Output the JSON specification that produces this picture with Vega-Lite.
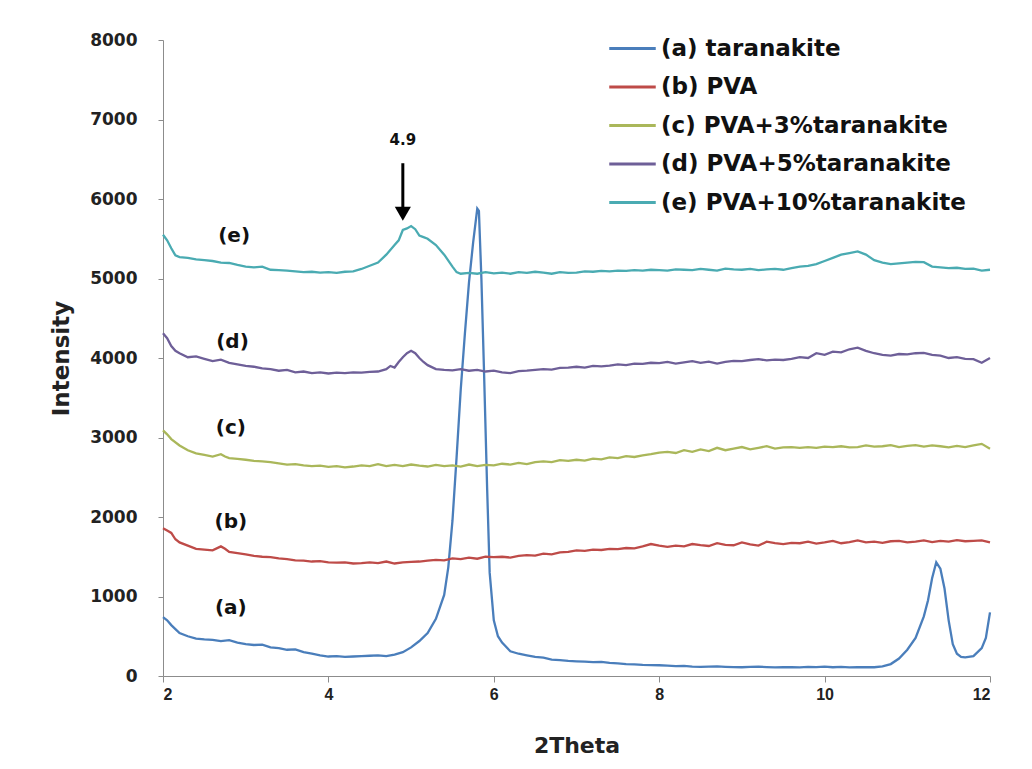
{
  "$schema": "https://vega.github.io/schema/vega-lite/v6.json",
  "width": 827,
  "height": 636,
  "autosize": {"type": "none"},
  "padding": {"left": 163, "top": 40, "right": 42, "bottom": 93},
  "background": "white",
  "config": {
    "view": {"stroke": null},
    "axis": {
      "domainColor": "#8c8c8c",
      "tickColor": "#8c8c8c",
      "grid": false,
      "labelColor": "#222222",
      "titleColor": "#222222"
    }
  },
  "datasets": {
    "names": [
      {"s": "a", "name": "(a) taranakite"},
      {"s": "b", "name": "(b) PVA"},
      {"s": "c", "name": "(c) PVA+3%taranakite"},
      {"s": "d", "name": "(d) PVA+5%taranakite"},
      {"s": "e", "name": "(e) PVA+10%taranakite"}
    ],
    "xrd": [
      {"s":"a","x":2.0,"y":740},{"s":"a","x":2.05,"y":700},{"s":"a","x":2.1,"y":640},{"s":"a","x":2.15,"y":590},{"s":"a","x":2.2,"y":540},{"s":"a","x":2.3,"y":500},{"s":"a","x":2.4,"y":470},{"s":"a","x":2.5,"y":460},{"s":"a","x":2.6,"y":455},{"s":"a","x":2.7,"y":440},{"s":"a","x":2.8,"y":450},{"s":"a","x":2.9,"y":420},{"s":"a","x":3.0,"y":400},{"s":"a","x":3.1,"y":390},{"s":"a","x":3.2,"y":395},{"s":"a","x":3.3,"y":360},{"s":"a","x":3.4,"y":350},{"s":"a","x":3.5,"y":330},{"s":"a","x":3.6,"y":335},{"s":"a","x":3.7,"y":300},{"s":"a","x":3.8,"y":280},{"s":"a","x":3.9,"y":260},{"s":"a","x":4.0,"y":245},{"s":"a","x":4.1,"y":250},{"s":"a","x":4.2,"y":240},{"s":"a","x":4.3,"y":245},{"s":"a","x":4.4,"y":250},{"s":"a","x":4.5,"y":255},{"s":"a","x":4.6,"y":260},{"s":"a","x":4.7,"y":250},{"s":"a","x":4.8,"y":270},{"s":"a","x":4.9,"y":300},{"s":"a","x":5.0,"y":360},{"s":"a","x":5.1,"y":440},{"s":"a","x":5.2,"y":540},{"s":"a","x":5.3,"y":720},{"s":"a","x":5.35,"y":870},{"s":"a","x":5.4,"y":1020},{"s":"a","x":5.45,"y":1370},{"s":"a","x":5.5,"y":1950},{"s":"a","x":5.55,"y":2750},{"s":"a","x":5.6,"y":3600},{"s":"a","x":5.65,"y":4300},{"s":"a","x":5.7,"y":4950},{"s":"a","x":5.75,"y":5450},{"s":"a","x":5.8,"y":5880},{"s":"a","x":5.82,"y":5850},{"s":"a","x":5.85,"y":5000},{"s":"a","x":5.88,"y":3900},{"s":"a","x":5.92,"y":2340},{"s":"a","x":5.95,"y":1300},{"s":"a","x":6.0,"y":700},{"s":"a","x":6.05,"y":500},{"s":"a","x":6.1,"y":420},{"s":"a","x":6.2,"y":310},{"s":"a","x":6.3,"y":280},{"s":"a","x":6.4,"y":260},{"s":"a","x":6.5,"y":240},{"s":"a","x":6.6,"y":230},{"s":"a","x":6.7,"y":205},{"s":"a","x":6.8,"y":200},{"s":"a","x":6.9,"y":190},{"s":"a","x":7.0,"y":185},{"s":"a","x":7.1,"y":180},{"s":"a","x":7.2,"y":175},{"s":"a","x":7.3,"y":178},{"s":"a","x":7.4,"y":165},{"s":"a","x":7.5,"y":160},{"s":"a","x":7.6,"y":150},{"s":"a","x":7.7,"y":145},{"s":"a","x":7.8,"y":140},{"s":"a","x":7.9,"y":138},{"s":"a","x":8.0,"y":135},{"s":"a","x":8.1,"y":130},{"s":"a","x":8.2,"y":125},{"s":"a","x":8.3,"y":128},{"s":"a","x":8.4,"y":118},{"s":"a","x":8.5,"y":115},{"s":"a","x":8.6,"y":118},{"s":"a","x":8.7,"y":120},{"s":"a","x":8.8,"y":115},{"s":"a","x":8.9,"y":112},{"s":"a","x":9.0,"y":110},{"s":"a","x":9.1,"y":115},{"s":"a","x":9.2,"y":118},{"s":"a","x":9.3,"y":112},{"s":"a","x":9.4,"y":108},{"s":"a","x":9.5,"y":112},{"s":"a","x":9.6,"y":110},{"s":"a","x":9.7,"y":108},{"s":"a","x":9.8,"y":115},{"s":"a","x":9.9,"y":112},{"s":"a","x":10.0,"y":118},{"s":"a","x":10.1,"y":110},{"s":"a","x":10.2,"y":115},{"s":"a","x":10.3,"y":108},{"s":"a","x":10.4,"y":112},{"s":"a","x":10.5,"y":110},{"s":"a","x":10.6,"y":110},{"s":"a","x":10.7,"y":120},{"s":"a","x":10.8,"y":150},{"s":"a","x":10.9,"y":220},{"s":"a","x":11.0,"y":330},{"s":"a","x":11.1,"y":480},{"s":"a","x":11.2,"y":750},{"s":"a","x":11.25,"y":950},{"s":"a","x":11.3,"y":1230},{"s":"a","x":11.35,"y":1430},{"s":"a","x":11.4,"y":1350},{"s":"a","x":11.45,"y":1100},{"s":"a","x":11.5,"y":700},{"s":"a","x":11.55,"y":400},{"s":"a","x":11.6,"y":280},{"s":"a","x":11.65,"y":240},{"s":"a","x":11.7,"y":235},{"s":"a","x":11.8,"y":250},{"s":"a","x":11.9,"y":350},{"s":"a","x":11.95,"y":480},{"s":"a","x":12.0,"y":800},
      {"s":"b","x":2.0,"y":1860},{"s":"b","x":2.05,"y":1830},{"s":"b","x":2.1,"y":1800},{"s":"b","x":2.15,"y":1720},{"s":"b","x":2.2,"y":1680},{"s":"b","x":2.3,"y":1640},{"s":"b","x":2.4,"y":1600},{"s":"b","x":2.5,"y":1590},{"s":"b","x":2.6,"y":1580},{"s":"b","x":2.7,"y":1630},{"s":"b","x":2.75,"y":1600},{"s":"b","x":2.8,"y":1560},{"s":"b","x":2.9,"y":1545},{"s":"b","x":3.0,"y":1530},{"s":"b","x":3.1,"y":1510},{"s":"b","x":3.2,"y":1500},{"s":"b","x":3.3,"y":1495},{"s":"b","x":3.4,"y":1480},{"s":"b","x":3.5,"y":1470},{"s":"b","x":3.6,"y":1455},{"s":"b","x":3.7,"y":1450},{"s":"b","x":3.8,"y":1440},{"s":"b","x":3.9,"y":1445},{"s":"b","x":4.0,"y":1430},{"s":"b","x":4.1,"y":1425},{"s":"b","x":4.2,"y":1430},{"s":"b","x":4.3,"y":1415},{"s":"b","x":4.4,"y":1420},{"s":"b","x":4.5,"y":1430},{"s":"b","x":4.6,"y":1420},{"s":"b","x":4.7,"y":1440},{"s":"b","x":4.8,"y":1415},{"s":"b","x":4.9,"y":1430},{"s":"b","x":5.0,"y":1435},{"s":"b","x":5.1,"y":1440},{"s":"b","x":5.2,"y":1450},{"s":"b","x":5.3,"y":1460},{"s":"b","x":5.4,"y":1455},{"s":"b","x":5.5,"y":1480},{"s":"b","x":5.6,"y":1470},{"s":"b","x":5.7,"y":1490},{"s":"b","x":5.8,"y":1475},{"s":"b","x":5.9,"y":1500},{"s":"b","x":6.0,"y":1495},{"s":"b","x":6.1,"y":1500},{"s":"b","x":6.2,"y":1490},{"s":"b","x":6.3,"y":1510},{"s":"b","x":6.4,"y":1520},{"s":"b","x":6.5,"y":1515},{"s":"b","x":6.6,"y":1540},{"s":"b","x":6.7,"y":1530},{"s":"b","x":6.8,"y":1555},{"s":"b","x":6.9,"y":1560},{"s":"b","x":7.0,"y":1580},{"s":"b","x":7.1,"y":1575},{"s":"b","x":7.2,"y":1590},{"s":"b","x":7.3,"y":1585},{"s":"b","x":7.4,"y":1600},{"s":"b","x":7.5,"y":1595},{"s":"b","x":7.6,"y":1610},{"s":"b","x":7.7,"y":1605},{"s":"b","x":7.8,"y":1630},{"s":"b","x":7.9,"y":1660},{"s":"b","x":8.0,"y":1640},{"s":"b","x":8.1,"y":1625},{"s":"b","x":8.2,"y":1640},{"s":"b","x":8.3,"y":1630},{"s":"b","x":8.4,"y":1660},{"s":"b","x":8.5,"y":1645},{"s":"b","x":8.6,"y":1635},{"s":"b","x":8.7,"y":1670},{"s":"b","x":8.8,"y":1650},{"s":"b","x":8.9,"y":1645},{"s":"b","x":9.0,"y":1680},{"s":"b","x":9.1,"y":1655},{"s":"b","x":9.2,"y":1640},{"s":"b","x":9.3,"y":1690},{"s":"b","x":9.4,"y":1670},{"s":"b","x":9.5,"y":1660},{"s":"b","x":9.6,"y":1675},{"s":"b","x":9.7,"y":1670},{"s":"b","x":9.8,"y":1690},{"s":"b","x":9.9,"y":1665},{"s":"b","x":10.0,"y":1680},{"s":"b","x":10.1,"y":1700},{"s":"b","x":10.2,"y":1670},{"s":"b","x":10.3,"y":1685},{"s":"b","x":10.4,"y":1705},{"s":"b","x":10.5,"y":1680},{"s":"b","x":10.6,"y":1690},{"s":"b","x":10.7,"y":1675},{"s":"b","x":10.8,"y":1695},{"s":"b","x":10.9,"y":1700},{"s":"b","x":11.0,"y":1680},{"s":"b","x":11.1,"y":1690},{"s":"b","x":11.2,"y":1705},{"s":"b","x":11.3,"y":1685},{"s":"b","x":11.4,"y":1700},{"s":"b","x":11.5,"y":1690},{"s":"b","x":11.6,"y":1710},{"s":"b","x":11.7,"y":1695},{"s":"b","x":11.8,"y":1700},{"s":"b","x":11.9,"y":1705},{"s":"b","x":12.0,"y":1680},
      {"s":"c","x":2.0,"y":3090},{"s":"c","x":2.05,"y":3040},{"s":"c","x":2.1,"y":2980},{"s":"c","x":2.2,"y":2900},{"s":"c","x":2.3,"y":2840},{"s":"c","x":2.4,"y":2800},{"s":"c","x":2.5,"y":2780},{"s":"c","x":2.6,"y":2760},{"s":"c","x":2.7,"y":2790},{"s":"c","x":2.75,"y":2760},{"s":"c","x":2.8,"y":2740},{"s":"c","x":2.9,"y":2730},{"s":"c","x":3.0,"y":2720},{"s":"c","x":3.1,"y":2705},{"s":"c","x":3.2,"y":2700},{"s":"c","x":3.3,"y":2690},{"s":"c","x":3.4,"y":2675},{"s":"c","x":3.5,"y":2660},{"s":"c","x":3.6,"y":2665},{"s":"c","x":3.7,"y":2650},{"s":"c","x":3.8,"y":2640},{"s":"c","x":3.9,"y":2645},{"s":"c","x":4.0,"y":2630},{"s":"c","x":4.1,"y":2640},{"s":"c","x":4.2,"y":2625},{"s":"c","x":4.3,"y":2635},{"s":"c","x":4.4,"y":2650},{"s":"c","x":4.5,"y":2640},{"s":"c","x":4.6,"y":2665},{"s":"c","x":4.7,"y":2640},{"s":"c","x":4.8,"y":2655},{"s":"c","x":4.9,"y":2640},{"s":"c","x":5.0,"y":2660},{"s":"c","x":5.1,"y":2645},{"s":"c","x":5.2,"y":2635},{"s":"c","x":5.3,"y":2655},{"s":"c","x":5.4,"y":2640},{"s":"c","x":5.5,"y":2650},{"s":"c","x":5.6,"y":2635},{"s":"c","x":5.7,"y":2660},{"s":"c","x":5.8,"y":2640},{"s":"c","x":5.9,"y":2655},{"s":"c","x":6.0,"y":2650},{"s":"c","x":6.1,"y":2670},{"s":"c","x":6.2,"y":2660},{"s":"c","x":6.3,"y":2680},{"s":"c","x":6.4,"y":2665},{"s":"c","x":6.5,"y":2690},{"s":"c","x":6.6,"y":2700},{"s":"c","x":6.7,"y":2690},{"s":"c","x":6.8,"y":2715},{"s":"c","x":6.9,"y":2705},{"s":"c","x":7.0,"y":2720},{"s":"c","x":7.1,"y":2710},{"s":"c","x":7.2,"y":2735},{"s":"c","x":7.3,"y":2725},{"s":"c","x":7.4,"y":2750},{"s":"c","x":7.5,"y":2740},{"s":"c","x":7.6,"y":2765},{"s":"c","x":7.7,"y":2755},{"s":"c","x":7.8,"y":2775},{"s":"c","x":7.9,"y":2790},{"s":"c","x":8.0,"y":2810},{"s":"c","x":8.1,"y":2820},{"s":"c","x":8.2,"y":2805},{"s":"c","x":8.3,"y":2840},{"s":"c","x":8.4,"y":2820},{"s":"c","x":8.5,"y":2850},{"s":"c","x":8.6,"y":2830},{"s":"c","x":8.7,"y":2870},{"s":"c","x":8.8,"y":2840},{"s":"c","x":8.9,"y":2860},{"s":"c","x":9.0,"y":2880},{"s":"c","x":9.1,"y":2850},{"s":"c","x":9.2,"y":2870},{"s":"c","x":9.3,"y":2890},{"s":"c","x":9.4,"y":2860},{"s":"c","x":9.5,"y":2875},{"s":"c","x":9.6,"y":2880},{"s":"c","x":9.7,"y":2870},{"s":"c","x":9.8,"y":2880},{"s":"c","x":9.9,"y":2870},{"s":"c","x":10.0,"y":2885},{"s":"c","x":10.1,"y":2880},{"s":"c","x":10.2,"y":2890},{"s":"c","x":10.3,"y":2875},{"s":"c","x":10.4,"y":2880},{"s":"c","x":10.5,"y":2900},{"s":"c","x":10.6,"y":2885},{"s":"c","x":10.7,"y":2890},{"s":"c","x":10.8,"y":2905},{"s":"c","x":10.9,"y":2880},{"s":"c","x":11.0,"y":2895},{"s":"c","x":11.1,"y":2905},{"s":"c","x":11.2,"y":2885},{"s":"c","x":11.3,"y":2900},{"s":"c","x":11.4,"y":2890},{"s":"c","x":11.5,"y":2875},{"s":"c","x":11.6,"y":2895},{"s":"c","x":11.7,"y":2880},{"s":"c","x":11.8,"y":2900},{"s":"c","x":11.9,"y":2920},{"s":"c","x":12.0,"y":2860},
      {"s":"d","x":2.0,"y":4310},{"s":"d","x":2.05,"y":4250},{"s":"d","x":2.1,"y":4150},{"s":"d","x":2.15,"y":4090},{"s":"d","x":2.2,"y":4060},{"s":"d","x":2.3,"y":4010},{"s":"d","x":2.4,"y":4020},{"s":"d","x":2.5,"y":3990},{"s":"d","x":2.6,"y":3960},{"s":"d","x":2.7,"y":3980},{"s":"d","x":2.8,"y":3940},{"s":"d","x":2.9,"y":3920},{"s":"d","x":3.0,"y":3900},{"s":"d","x":3.1,"y":3890},{"s":"d","x":3.2,"y":3870},{"s":"d","x":3.3,"y":3860},{"s":"d","x":3.4,"y":3840},{"s":"d","x":3.5,"y":3850},{"s":"d","x":3.6,"y":3820},{"s":"d","x":3.7,"y":3830},{"s":"d","x":3.8,"y":3810},{"s":"d","x":3.9,"y":3820},{"s":"d","x":4.0,"y":3805},{"s":"d","x":4.1,"y":3815},{"s":"d","x":4.2,"y":3810},{"s":"d","x":4.3,"y":3820},{"s":"d","x":4.4,"y":3815},{"s":"d","x":4.5,"y":3825},{"s":"d","x":4.6,"y":3830},{"s":"d","x":4.7,"y":3860},{"s":"d","x":4.75,"y":3900},{"s":"d","x":4.8,"y":3880},{"s":"d","x":4.85,"y":3950},{"s":"d","x":4.9,"y":4010},{"s":"d","x":4.95,"y":4060},{"s":"d","x":5.0,"y":4090},{"s":"d","x":5.05,"y":4060},{"s":"d","x":5.1,"y":4000},{"s":"d","x":5.15,"y":3950},{"s":"d","x":5.2,"y":3910},{"s":"d","x":5.3,"y":3860},{"s":"d","x":5.4,"y":3850},{"s":"d","x":5.5,"y":3845},{"s":"d","x":5.6,"y":3860},{"s":"d","x":5.7,"y":3840},{"s":"d","x":5.8,"y":3850},{"s":"d","x":5.9,"y":3830},{"s":"d","x":6.0,"y":3840},{"s":"d","x":6.1,"y":3820},{"s":"d","x":6.2,"y":3810},{"s":"d","x":6.3,"y":3835},{"s":"d","x":6.4,"y":3840},{"s":"d","x":6.5,"y":3850},{"s":"d","x":6.6,"y":3860},{"s":"d","x":6.7,"y":3855},{"s":"d","x":6.8,"y":3875},{"s":"d","x":6.9,"y":3880},{"s":"d","x":7.0,"y":3890},{"s":"d","x":7.1,"y":3880},{"s":"d","x":7.2,"y":3900},{"s":"d","x":7.3,"y":3895},{"s":"d","x":7.4,"y":3905},{"s":"d","x":7.5,"y":3920},{"s":"d","x":7.6,"y":3910},{"s":"d","x":7.7,"y":3930},{"s":"d","x":7.8,"y":3925},{"s":"d","x":7.9,"y":3940},{"s":"d","x":8.0,"y":3935},{"s":"d","x":8.1,"y":3950},{"s":"d","x":8.2,"y":3930},{"s":"d","x":8.3,"y":3945},{"s":"d","x":8.4,"y":3960},{"s":"d","x":8.5,"y":3940},{"s":"d","x":8.6,"y":3955},{"s":"d","x":8.7,"y":3930},{"s":"d","x":8.8,"y":3950},{"s":"d","x":8.9,"y":3965},{"s":"d","x":9.0,"y":3960},{"s":"d","x":9.1,"y":3975},{"s":"d","x":9.2,"y":3985},{"s":"d","x":9.3,"y":3970},{"s":"d","x":9.4,"y":3980},{"s":"d","x":9.5,"y":3975},{"s":"d","x":9.6,"y":3990},{"s":"d","x":9.7,"y":4010},{"s":"d","x":9.8,"y":4000},{"s":"d","x":9.9,"y":4060},{"s":"d","x":10.0,"y":4040},{"s":"d","x":10.1,"y":4080},{"s":"d","x":10.2,"y":4070},{"s":"d","x":10.3,"y":4110},{"s":"d","x":10.4,"y":4130},{"s":"d","x":10.5,"y":4090},{"s":"d","x":10.6,"y":4060},{"s":"d","x":10.7,"y":4040},{"s":"d","x":10.8,"y":4030},{"s":"d","x":10.9,"y":4050},{"s":"d","x":11.0,"y":4045},{"s":"d","x":11.1,"y":4060},{"s":"d","x":11.2,"y":4065},{"s":"d","x":11.3,"y":4040},{"s":"d","x":11.4,"y":4030},{"s":"d","x":11.5,"y":4000},{"s":"d","x":11.6,"y":4010},{"s":"d","x":11.7,"y":3990},{"s":"d","x":11.8,"y":3985},{"s":"d","x":11.9,"y":3940},{"s":"d","x":12.0,"y":4000},
      {"s":"e","x":2.0,"y":5550},{"s":"e","x":2.05,"y":5480},{"s":"e","x":2.1,"y":5380},{"s":"e","x":2.15,"y":5290},{"s":"e","x":2.2,"y":5270},{"s":"e","x":2.3,"y":5260},{"s":"e","x":2.4,"y":5240},{"s":"e","x":2.5,"y":5230},{"s":"e","x":2.6,"y":5220},{"s":"e","x":2.7,"y":5200},{"s":"e","x":2.8,"y":5195},{"s":"e","x":2.9,"y":5170},{"s":"e","x":3.0,"y":5150},{"s":"e","x":3.1,"y":5140},{"s":"e","x":3.2,"y":5150},{"s":"e","x":3.3,"y":5110},{"s":"e","x":3.4,"y":5105},{"s":"e","x":3.5,"y":5100},{"s":"e","x":3.6,"y":5090},{"s":"e","x":3.7,"y":5080},{"s":"e","x":3.8,"y":5085},{"s":"e","x":3.9,"y":5075},{"s":"e","x":4.0,"y":5080},{"s":"e","x":4.1,"y":5070},{"s":"e","x":4.2,"y":5085},{"s":"e","x":4.3,"y":5090},{"s":"e","x":4.4,"y":5120},{"s":"e","x":4.5,"y":5160},{"s":"e","x":4.6,"y":5200},{"s":"e","x":4.7,"y":5300},{"s":"e","x":4.8,"y":5420},{"s":"e","x":4.85,"y":5480},{"s":"e","x":4.9,"y":5610},{"s":"e","x":4.95,"y":5630},{"s":"e","x":5.0,"y":5660},{"s":"e","x":5.05,"y":5620},{"s":"e","x":5.1,"y":5540},{"s":"e","x":5.15,"y":5520},{"s":"e","x":5.2,"y":5500},{"s":"e","x":5.3,"y":5420},{"s":"e","x":5.4,"y":5300},{"s":"e","x":5.5,"y":5150},{"s":"e","x":5.55,"y":5080},{"s":"e","x":5.6,"y":5060},{"s":"e","x":5.7,"y":5070},{"s":"e","x":5.8,"y":5060},{"s":"e","x":5.9,"y":5080},{"s":"e","x":6.0,"y":5065},{"s":"e","x":6.1,"y":5075},{"s":"e","x":6.2,"y":5060},{"s":"e","x":6.3,"y":5080},{"s":"e","x":6.4,"y":5070},{"s":"e","x":6.5,"y":5085},{"s":"e","x":6.6,"y":5075},{"s":"e","x":6.7,"y":5060},{"s":"e","x":6.8,"y":5080},{"s":"e","x":6.9,"y":5070},{"s":"e","x":7.0,"y":5075},{"s":"e","x":7.1,"y":5090},{"s":"e","x":7.2,"y":5085},{"s":"e","x":7.3,"y":5095},{"s":"e","x":7.4,"y":5090},{"s":"e","x":7.5,"y":5100},{"s":"e","x":7.6,"y":5095},{"s":"e","x":7.7,"y":5105},{"s":"e","x":7.8,"y":5100},{"s":"e","x":7.9,"y":5110},{"s":"e","x":8.0,"y":5105},{"s":"e","x":8.1,"y":5100},{"s":"e","x":8.2,"y":5115},{"s":"e","x":8.3,"y":5110},{"s":"e","x":8.4,"y":5105},{"s":"e","x":8.5,"y":5120},{"s":"e","x":8.6,"y":5110},{"s":"e","x":8.7,"y":5100},{"s":"e","x":8.8,"y":5125},{"s":"e","x":8.9,"y":5115},{"s":"e","x":9.0,"y":5110},{"s":"e","x":9.1,"y":5120},{"s":"e","x":9.2,"y":5105},{"s":"e","x":9.3,"y":5115},{"s":"e","x":9.4,"y":5120},{"s":"e","x":9.5,"y":5110},{"s":"e","x":9.6,"y":5130},{"s":"e","x":9.7,"y":5150},{"s":"e","x":9.8,"y":5160},{"s":"e","x":9.9,"y":5180},{"s":"e","x":10.0,"y":5220},{"s":"e","x":10.1,"y":5260},{"s":"e","x":10.2,"y":5300},{"s":"e","x":10.3,"y":5320},{"s":"e","x":10.4,"y":5340},{"s":"e","x":10.5,"y":5300},{"s":"e","x":10.6,"y":5230},{"s":"e","x":10.7,"y":5200},{"s":"e","x":10.8,"y":5180},{"s":"e","x":10.9,"y":5190},{"s":"e","x":11.0,"y":5200},{"s":"e","x":11.1,"y":5210},{"s":"e","x":11.2,"y":5205},{"s":"e","x":11.3,"y":5150},{"s":"e","x":11.4,"y":5140},{"s":"e","x":11.5,"y":5130},{"s":"e","x":11.6,"y":5135},{"s":"e","x":11.7,"y":5120},{"s":"e","x":11.8,"y":5125},{"s":"e","x":11.9,"y":5100},{"s":"e","x":12.0,"y":5110}
    ],
    "tags": [
      {"tag": "(a)", "x": 2.82, "y": 850},
      {"tag": "(b)", "x": 2.82, "y": 1940},
      {"tag": "(c)", "x": 2.82, "y": 3120},
      {"tag": "(d)", "x": 2.84, "y": 4200},
      {"tag": "(e)", "x": 2.86, "y": 5530}
    ],
    "peak": [
      {"x": 4.9, "label": "4.9", "top": 6450, "bottom": 5880, "head": 5815, "text": 6740}
    ]
  },
  "layer": [
    {
      "data": {"name": "xrd"},
      "transform": [
        {"lookup": "s", "from": {"data": {"name": "names"}, "key": "s", "fields": ["name"]}}
      ],
      "mark": {"type": "line", "strokeWidth": 2.3, "interpolate": "linear"},
      "encoding": {
        "x": {
          "field": "x", "type": "quantitative",
          "scale": {"domain": [2, 12], "nice": false, "zero": false},
          "axis": {
            "title": "2Theta", "values": [2, 4, 6, 8, 10, 12], "format": "d",
            "tickSize": 6, "labelPadding": 4,
            "labelFont": "Liberation Sans", "labelFontSize": 16, "labelFontWeight": "bold",
            "titleFont": "DejaVu Sans", "titleFontSize": 22, "titleFontWeight": "bold",
            "titlePadding": 33
          }
        },
        "y": {
          "field": "y", "type": "quantitative",
          "scale": {"domain": [0, 8000], "nice": false},
          "axis": {
            "title": "Intensity", "values": [0, 1000, 2000, 3000, 4000, 5000, 6000, 7000, 8000], "format": "d",
            "tickSize": 5, "labelPadding": 21,
            "labelFont": "DejaVu Sans", "labelFontSize": 17, "labelFontWeight": "bold",
            "titleFont": "DejaVu Sans", "titleFontSize": 23, "titleFontWeight": "bold",
            "titlePadding": 16
          }
        },
        "color": {
          "field": "name", "type": "nominal",
          "scale": {
            "domain": ["(a) taranakite", "(b) PVA", "(c) PVA+3%taranakite", "(d) PVA+5%taranakite", "(e) PVA+10%taranakite"],
            "range": ["#4a7ebb", "#be4b48", "#aab75a", "#6e5f98", "#4aabb2"]
          },
          "legend": {
            "title": null,
            "orient": "none",
            "legendX": 453,
            "legendY": -8,
            "padding": 0,
            "symbolType": "M-1.55,0H1.55",
            "symbolSize": 900,
            "symbolStrokeWidth": 3,
            "rowPadding": 9.5,
            "labelOffset": 12,
            "labelFont": "DejaVu Sans",
            "labelFontSize": 23,
            "labelFontWeight": "bold",
            "labelColor": "#111111",
            "labelLimit": 400
          }
        },
        "order": {"field": "x", "type": "quantitative"}
      }
    },
    {
      "data": {"name": "tags"},
      "mark": {"type": "text", "font": "DejaVu Sans", "fontSize": 20, "fontWeight": "bold", "color": "#111111"},
      "encoding": {
        "x": {"field": "x", "type": "quantitative"},
        "y": {"field": "y", "type": "quantitative"},
        "text": {"field": "tag"}
      }
    },
    {
      "data": {"name": "peak"},
      "mark": {"type": "rule", "color": "#000000", "strokeWidth": 3},
      "encoding": {
        "x": {"field": "x", "type": "quantitative"},
        "y": {"field": "top", "type": "quantitative"},
        "y2": {"field": "bottom"}
      }
    },
    {
      "data": {"name": "peak"},
      "mark": {"type": "point", "shape": "triangle-down", "filled": true, "color": "#000000", "size": 260, "opacity": 1},
      "encoding": {
        "x": {"field": "x", "type": "quantitative"},
        "y": {"field": "head", "type": "quantitative"}
      }
    },
    {
      "data": {"name": "peak"},
      "mark": {"type": "text", "font": "DejaVu Sans", "fontSize": 15, "fontWeight": "bold", "color": "#111111"},
      "encoding": {
        "x": {"field": "x", "type": "quantitative"},
        "y": {"field": "text", "type": "quantitative"},
        "text": {"field": "label"}
      }
    }
  ]
}
